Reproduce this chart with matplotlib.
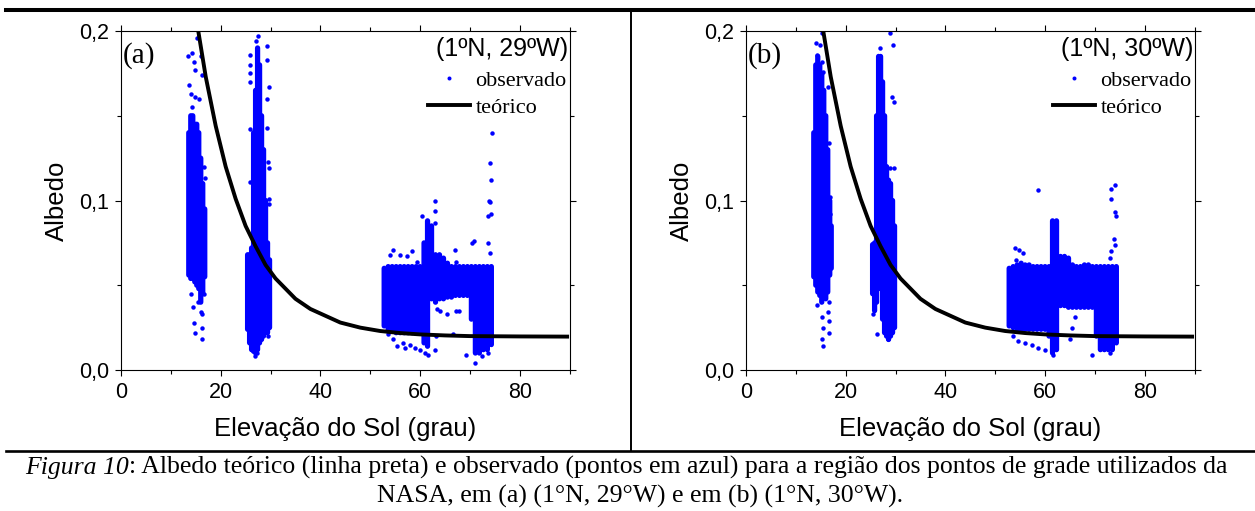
import matplotlib
matplotlib.use("Agg")
import matplotlib.pyplot as plt
from matplotlib.lines import Line2D
from matplotlib.ticker import FixedLocator, FuncFormatter

SANS = "Liberation Sans"
SERIF = "Liberation Serif"
BLUE = "#0000ff"

# curva teorica
theo_x = [15.5, 17, 19, 21, 23, 25, 27, 29, 31, 33, 35, 38, 41, 44, 48, 52, 56, 60, 65, 70, 80, 89.5]
theo_y = [0.200, 0.173, 0.144, 0.120, 0.101, 0.085, 0.073, 0.062, 0.054, 0.048, 0.042, 0.036,
          0.032, 0.028, 0.025, 0.023, 0.0218, 0.0210, 0.0204, 0.0200, 0.0198, 0.0197]

# faixas densas de pontos observados: (elevacao, albedo min, albedo max)
a_cols = [
    (13.6, 0.056, 0.140), (14.0, 0.054, 0.150), (14.4, 0.054, 0.150), (14.8, 0.052, 0.145),
    (15.2, 0.050, 0.145), (15.6, 0.048, 0.140), (16.0, 0.040, 0.125), (16.4, 0.045, 0.110),
    (16.8, 0.055, 0.095),
    (25.4, 0.024, 0.068), (25.8, 0.016, 0.068), (26.2, 0.012, 0.072), (26.6, 0.011, 0.140),
    (27.0, 0.010, 0.165), (27.4, 0.012, 0.190), (27.8, 0.016, 0.180), (28.2, 0.018, 0.150),
    (28.6, 0.020, 0.130), (29.0, 0.022, 0.100), (29.4, 0.022, 0.075), (29.8, 0.025, 0.065),
    (52.8, 0.026, 0.060), (53.6, 0.024, 0.061), (54.4, 0.023, 0.061), (55.2, 0.022, 0.061),
    (56.0, 0.022, 0.061), (56.8, 0.022, 0.061), (57.6, 0.022, 0.061), (58.4, 0.022, 0.061),
    (59.2, 0.022, 0.061), (60.0, 0.022, 0.061), (60.8, 0.016, 0.075), (61.5, 0.014, 0.088),
    (62.3, 0.042, 0.085), (63.1, 0.040, 0.068), (63.9, 0.042, 0.068), (64.7, 0.042, 0.066),
    (65.5, 0.043, 0.063), (66.3, 0.043, 0.061), (67.1, 0.044, 0.061), (67.9, 0.044, 0.061),
    (68.7, 0.044, 0.061), (69.5, 0.044, 0.061), (70.3, 0.030, 0.061), (71.1, 0.010, 0.061),
    (71.9, 0.010, 0.061), (72.7, 0.012, 0.061), (73.5, 0.012, 0.061), (74.3, 0.015, 0.061),
]
# pontos isolados
a_pts = [
    (13.5, 0.185), (14.3, 0.187), (14.7, 0.182), (14.8, 0.177), (16.1, 0.185), (16.2, 0.174),
    (15.3, 0.196), (13.6, 0.168), (14.0, 0.163), (14.9, 0.161), (15.6, 0.160), (14.3, 0.155),
    (16.6, 0.120), (16.9, 0.113), (14.4, 0.037), (16.2, 0.033), (16.0, 0.034), (14.7, 0.028),
    (14.9, 0.022), (16.2, 0.025), (16.3, 0.018), (15.5, 0.040), (16.6, 0.045), (14.0, 0.045),
    (27.5, 0.197), (27.0, 0.194), (29.2, 0.191), (25.9, 0.186), (29.3, 0.183), (25.8, 0.180),
    (25.9, 0.175), (25.9, 0.170), (29.6, 0.167), (29.2, 0.160), (25.9, 0.142), (29.2, 0.143),
    (29.5, 0.123), (25.9, 0.111), (29.7, 0.119), (29.6, 0.101), (29.7, 0.098), (26.9, 0.008),
    (27.3, 0.010), (26.0, 0.013), (29.5, 0.020),
    (54.0, 0.068), (54.6, 0.071), (55.9, 0.068), (57.3, 0.067), (58.3, 0.070), (59.3, 0.064),
    (60.3, 0.091), (62.9, 0.100), (62.9, 0.094), (63.0, 0.087), (67.0, 0.071), (67.3, 0.064),
    (70.4, 0.075), (70.9, 0.076), (73.7, 0.075), (74.0, 0.069), (73.7, 0.091), (74.0, 0.099),
    (74.2, 0.092), (74.4, 0.140), (74.0, 0.122), (74.2, 0.112), (73.8, 0.100), (63.4, 0.036),
    (64.0, 0.035), (65.4, 0.033), (67.2, 0.035), (67.8, 0.035), (66.6, 0.021), (63.2, 0.020),
    (71.1, 0.004), (69.3, 0.009), (72.4, 0.008), (73.7, 0.010), (63.0, 0.012), (61.6, 0.009),
    (54.5, 0.018), (55.3, 0.014), (56.5, 0.016), (57.0, 0.013), (58.0, 0.015), (59.0, 0.013),
    (60.0, 0.012), (61.0, 0.010), (53.5, 0.021),
]

b_cols = [
    (13.6, 0.055, 0.140), (14.0, 0.050, 0.180), (14.4, 0.046, 0.185), (14.8, 0.044, 0.180),
    (15.2, 0.040, 0.175), (15.6, 0.044, 0.165), (16.0, 0.042, 0.150), (16.4, 0.046, 0.130),
    (16.8, 0.056, 0.100), (17.1, 0.060, 0.085),
    (25.4, 0.045, 0.074), (25.8, 0.035, 0.075), (26.2, 0.040, 0.150), (26.6, 0.048, 0.185),
    (27.0, 0.050, 0.185), (27.4, 0.030, 0.170), (27.8, 0.022, 0.150), (28.2, 0.020, 0.120),
    (28.6, 0.018, 0.112), (29.0, 0.020, 0.110), (29.4, 0.022, 0.100), (29.8, 0.025, 0.085),
    (52.8, 0.026, 0.060), (53.6, 0.025, 0.061), (54.4, 0.024, 0.062), (55.2, 0.024, 0.063),
    (56.0, 0.024, 0.062), (56.8, 0.024, 0.062), (57.6, 0.024, 0.061), (58.4, 0.024, 0.061),
    (59.2, 0.024, 0.061), (60.0, 0.024, 0.061), (60.8, 0.020, 0.061), (61.5, 0.010, 0.088),
    (62.3, 0.012, 0.088), (63.1, 0.038, 0.067), (63.9, 0.038, 0.067), (64.7, 0.037, 0.066),
    (65.5, 0.037, 0.062), (66.3, 0.037, 0.061), (67.1, 0.037, 0.061), (67.9, 0.037, 0.062),
    (68.7, 0.037, 0.062), (69.5, 0.037, 0.061), (70.3, 0.020, 0.061), (71.1, 0.012, 0.061),
    (71.9, 0.012, 0.061), (72.7, 0.012, 0.061), (73.5, 0.012, 0.061), (74.3, 0.016, 0.061),
]
b_pts = [
    (14.05, 0.193), (14.85, 0.192), (14.3, 0.186), (15.2, 0.182), (15.5, 0.176), (16.5, 0.167),
    (16.7, 0.134), (16.85, 0.102), (16.9, 0.092), (14.3, 0.0385), (16.7, 0.040), (16.5, 0.0345),
    (15.2, 0.031), (16.7, 0.029), (15.5, 0.025), (16.7, 0.022), (15.2, 0.018), (15.4, 0.014),
    (15.2, 0.199),
    (26.9, 0.190), (29.4, 0.192), (29.2, 0.161), (29.6, 0.158), (28.9, 0.119), (29.6, 0.119),
    (26.3, 0.021), (28.55, 0.018), (25.5, 0.033), (28.9, 0.199),
    (58.65, 0.106), (74.1, 0.109), (73.3, 0.107), (73.2, 0.101), (74.0, 0.093), (74.3, 0.091),
    (73.9, 0.077), (74.0, 0.074), (73.3, 0.070), (73.1, 0.066), (54.0, 0.072), (54.8, 0.071),
    (55.5, 0.069), (54.1, 0.065), (66.0, 0.0315), (65.5, 0.025), (65.0, 0.018), (69.4, 0.009),
    (54.6, 0.017), (57.3, 0.015), (58.65, 0.013), (60.0, 0.012), (61.65, 0.009), (73.1, 0.010),
    (72.1, 0.014), (56.0, 0.016), (53.5, 0.020),
]

W, H = 1255, 511
fig = plt.figure(figsize=(W / 100, H / 100), dpi=100)


def comma(v, pos):
    return ("%.1f" % v).replace(".", ",")


def panel(left_px, cols, pts, tag, coord):
    ax = fig.add_axes([left_px / W, 141 / H, 448.6 / W, 339 / H])
    cx = [c[0] for c in cols]
    ax.vlines(cx, [c[1] for c in cols], [c[2] for c in cols], colors=BLUE,
              linewidth=3.8, capstyle="round", snap=False, zorder=2)
    ax.plot([p[0] for p in pts], [p[1] for p in pts], ls="none", marker="o", ms=3.2,
            mec="none", color=BLUE, zorder=2, label="observado")
    ax.plot(theo_x, theo_y, color="black", lw=2.8, zorder=3, label="teórico")

    ax.set_xlim(0, 90)
    ax.set_ylim(0, 0.2)
    ax.xaxis.set_major_locator(FixedLocator([0, 20, 40, 60, 80]))
    ax.xaxis.set_minor_locator(FixedLocator([10, 30, 50, 70, 90]))
    ax.yaxis.set_major_locator(FixedLocator([0, 0.1, 0.2]))
    ax.yaxis.set_minor_locator(FixedLocator([0.05, 0.15]))
    ax.yaxis.set_major_formatter(FuncFormatter(comma))
    ax.tick_params(which="both", direction="out", top=True, right=True, width=0.8,
                   labelsize=15.5, labelfontfamily=SANS, pad=4)
    ax.tick_params(which="major", length=4.5)
    ax.tick_params(which="minor", length=3)
    for s in ax.spines.values():
        s.set_linewidth(0.8)

    ax.set_xlabel("Elevação do Sol (grau)", fontfamily=SANS, fontsize=18.5, labelpad=10)
    ax.set_ylabel("Albedo", fontfamily=SANS, fontsize=18.5, labelpad=7)

    ax.text(0.004, 0.968, tag, transform=ax.transAxes, ha="left", va="top",
            fontfamily=SERIF, fontsize=21)
    ax.text(0.997, 0.982, coord, transform=ax.transAxes, ha="right", va="top",
            fontfamily=SANS, fontsize=18)
    ax.legend(loc="upper left", bbox_to_anchor=(0.684, 0.885), frameon=False,
              prop={"family": SERIF, "size": 16}, handlelength=1.9, handletextpad=0.25,
              labelspacing=0.3, borderpad=0, borderaxespad=0, markerscale=0.9)
    return ax


panel(121, a_cols, a_pts, "(a)", "(1ºN, 29ºW)")
panel(746, b_cols, b_pts, "(b)", "(1ºN, 30ºW)")

# linhas de moldura da figura
fig.add_artist(Line2D([6 / W, 1], [1 - 10 / H, 1 - 10 / H], color="black", lw=2.9,
                      transform=fig.transFigure))
fig.add_artist(Line2D([6 / W, 1], [1 - 451 / H, 1 - 451 / H], color="black", lw=1.9,
                      transform=fig.transFigure))
fig.add_artist(Line2D([631 / W, 631 / W], [1 - 12 / H, 1 - 451 / H], color="black", lw=1.4,
                      transform=fig.transFigure))

# legenda da figura
CAP = 18.5
t1 = fig.text(25 / W, 1 - 474 / H, "Figura 10", fontfamily=SERIF, style="italic",
              fontsize=CAP, ha="left", va="baseline")
fig.axes[0].annotate(": Albedo teórico (linha preta) e observado (pontos em azul) para a "
                     "região dos pontos de grade utilizados da",
                     xy=(1, 0), xycoords=t1, ha="left", va="bottom", fontfamily=SERIF,
                     fontsize=CAP, annotation_clip=False)
fig.text(640 / W, 1 - 503 / H, "NASA, em (a) (1°N, 29°W) e em (b) (1°N, 30°W).",
         fontfamily=SERIF, fontsize=CAP, ha="center", va="baseline")

fig.savefig("out.png", dpi=100)
